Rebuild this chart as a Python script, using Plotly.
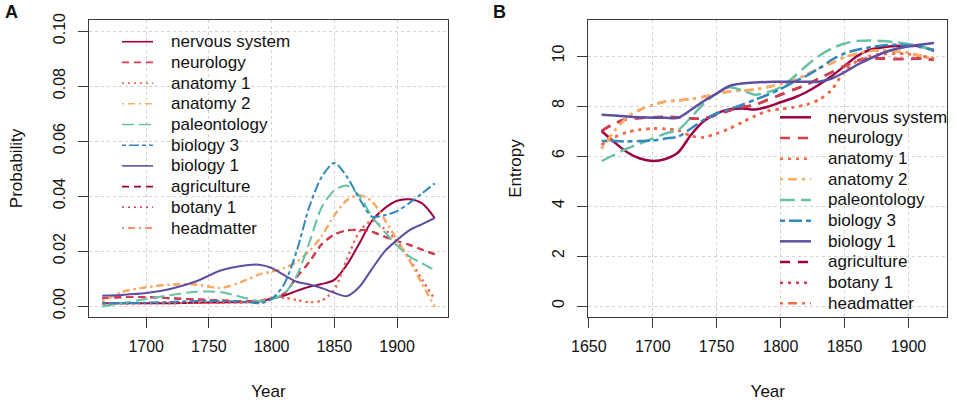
import plotly.graph_objects as go

# ---------------- data ----------------
series_names = ["nervous system", "neurology", "anatomy 1", "anatomy 2", "paleontology",
                "biology 3", "biology 1", "agriculture", "botany 1", "headmatter"]

# Panel A : probability by year
years_a = [1665, 1680, 1700, 1720, 1740, 1760, 1780, 1790, 1800, 1810, 1820,
           1830, 1840, 1850, 1860, 1870, 1880, 1890, 1900, 1910, 1920, 1930]
a_nervous_system = [0.001, 0.001, 0.001, 0.001, 0.0012, 0.0013, 0.0014, 0.0016, 0.0027, 0.0038, 0.0055,
                    0.007, 0.008, 0.0095, 0.015, 0.0228, 0.031, 0.0355, 0.0383, 0.0388, 0.0373, 0.032]
a_neurology = [0.0028, 0.0032, 0.0032, 0.0028, 0.0024, 0.002, 0.0017, 0.0018, 0.0028, 0.0045, 0.0105,
               0.016, 0.0225, 0.026, 0.0275, 0.0277, 0.027, 0.0252, 0.0236, 0.0222, 0.0205, 0.0188]
a_anatomy_1 = [0.0008, 0.0008, 0.001, 0.001, 0.0012, 0.0012, 0.0014, 0.0018, 0.003, 0.003, 0.0022,
               0.0014, 0.002, 0.006, 0.017, 0.027, 0.031, 0.028, 0.0235, 0.017, 0.0095, 0.0025]
a_anatomy_2 = [0.0015, 0.005, 0.0068, 0.0078, 0.0078, 0.0066, 0.0095, 0.0115, 0.0125, 0.0138, 0.016,
               0.02, 0.0255, 0.033, 0.0385, 0.0403, 0.038, 0.0315, 0.024, 0.0165, 0.008, -0.0003]
a_paleontology = [-0.0002, 0.001, 0.0025, 0.004, 0.0052, 0.005, 0.0028, 0.0018, 0.0025, 0.0045, 0.011,
                  0.023, 0.036, 0.042, 0.0438, 0.04, 0.0325, 0.027, 0.022, 0.018, 0.0155, 0.013]
a_biology_3 = [0.001, 0.001, 0.0012, 0.0015, 0.0018, 0.0018, 0.0015, 0.001, 0.0025, 0.008, 0.02,
               0.036, 0.047, 0.052, 0.047, 0.039, 0.0325, 0.033, 0.0345, 0.0375, 0.041, 0.0446]
a_biology_1 = [0.0037, 0.004, 0.0047, 0.0063, 0.009, 0.013, 0.0148, 0.015, 0.0138, 0.0112, 0.0088,
               0.0078, 0.0065, 0.0048, 0.0036, 0.007, 0.0135, 0.0198, 0.024, 0.0276, 0.0298, 0.032]
a_agriculture = list(a_neurology)
a_botany_1 = list(a_anatomy_1)
a_headmatter = list(a_anatomy_2)

# Panel B : entropy by year
years_b = [1660, 1670, 1680, 1690, 1700, 1710, 1720, 1730, 1740, 1750, 1760, 1770, 1780, 1790,
           1800, 1810, 1820, 1830, 1840, 1850, 1860, 1870, 1880, 1890, 1900, 1910, 1920]
b_nervous_system = [7.0, 6.55, 6.15, 5.9, 5.8, 5.88, 6.15, 6.85, 7.4, 7.7, 7.87, 7.9, 7.86, 7.97,
                    8.15, 8.32, 8.55, 8.85, 9.2, 9.6, 10.0, 10.25, 10.35, 10.4, 10.42, 10.38, 10.2]
b_neurology = [7.0, 7.3, 7.48, 7.52, 7.55, 7.56, 7.55, 7.5, 7.5, 7.65, 7.82, 7.95, 8.05, 8.25,
               8.45, 8.65, 8.85, 9.1, 9.35, 9.6, 9.82, 9.9, 9.9, 9.88, 9.88, 9.9, 9.85]
b_anatomy_1 = [6.45, 6.75, 6.95, 7.05, 7.1, 7.08, 7.02, 6.8, 6.75, 6.9, 7.1, 7.35, 7.6, 7.8,
               7.88, 7.95, 8.05, 8.25, 8.65, 9.4, 9.8, 10.0, 10.08, 10.1, 10.08, 10.0, 9.9]
b_anatomy_2 = [6.3, 7.0, 7.55, 7.85, 8.04, 8.18, 8.22, 8.28, 8.37, 8.48, 8.58, 8.62, 8.66, 8.76,
               8.88, 9.02, 9.25, 9.5, 9.72, 9.95, 10.1, 10.2, 10.23, 10.2, 10.12, 10.0, 9.85]
b_paleontology = [5.8, 6.05, 6.3, 6.5, 6.7, 6.9, 7.05, 7.55, 8.1, 8.5, 8.75, 8.62, 8.45, 8.55,
                  8.75, 9.15, 9.6, 10.0, 10.3, 10.5, 10.6, 10.62, 10.6, 10.55, 10.48, 10.38, 10.2]
b_biology_3 = [6.6, 6.6, 6.58, 6.6, 6.62, 6.7, 6.78, 7.1, 7.45, 7.7, 7.87, 8.05, 8.25, 8.45,
               8.68, 8.95, 9.2, 9.5, 9.85, 10.1, 10.25, 10.35, 10.42, 10.45, 10.42, 10.35, 10.25]
b_biology_1 = [7.65, 7.62, 7.58, 7.55, 7.53, 7.53, 7.53, 7.85, 8.2, 8.5, 8.8, 8.9, 8.94, 8.96,
               8.97, 8.97, 8.97, 8.97, 9.1, 9.35, 9.65, 9.9, 10.12, 10.28, 10.38, 10.46, 10.52]
b_agriculture = list(b_neurology)
b_botany_1 = list(b_anatomy_1)
b_headmatter = list(b_anatomy_2)

ticks_a_x = [1700, 1750, 1800, 1850, 1900]
ticks_a_y = [0.0, 0.02, 0.04, 0.06, 0.08, 0.10]
ticks_b_x = [1650, 1700, 1750, 1800, 1850, 1900]
ticks_b_y = [0, 2, 4, 6, 8, 10]

# ---------------- styles ----------------
colors = ["#9E0142", "#D53E4F", "#F46D43", "#FDAE61", "#66C2A5",
          "#3288BD", "#5E4FA2", "#9E0142", "#D53E4F", "#F46D43"]
ltypes = ["solid", "dashed", "dotted", "dotdash", "longdash",
          "twodash", "solid", "dashed", "dotted", "dotdash"]
dash_a = {"solid": "solid", "dashed": "7px,5px", "dotted": "2px,4px",
          "dotdash": "2px,4px,7px,4px", "longdash": "12px,5px", "twodash": "4px,3px,10px,3px"}
dash_b = {"solid": "solid", "dashed": "10px,8px", "dotted": "3px,5px",
          "dotdash": "3px,5px,9px,5px", "longdash": "15px,6px", "twodash": "5px,4px,13px,4px"}
W_A, W_B = 2.0, 2.5

data_a = [a_nervous_system, a_neurology, a_anatomy_1, a_anatomy_2, a_paleontology,
          a_biology_3, a_biology_1, a_agriculture, a_botany_1, a_headmatter]
data_b = [b_nervous_system, b_neurology, b_anatomy_1, b_anatomy_2, b_paleontology,
          b_biology_3, b_biology_1, b_agriculture, b_botany_1, b_headmatter]

FIG_W, FIG_H = 957, 403
FONT = "Liberation Sans, Arial, sans-serif"

fig = go.Figure()
# draw the overlapping (hidden) series first, then the rest on top
draw_order = [7, 8, 9, 0, 1, 2, 3, 4, 5, 6]
for i in draw_order:
    fig.add_trace(go.Scatter(x=years_a, y=data_a[i], name=series_names[i], mode="lines",
                             line=dict(color=colors[i], width=W_A, dash=dash_a[ltypes[i]],
                                       shape="spline", smoothing=0.8),
                             xaxis="x", yaxis="y", showlegend=False))
for i in draw_order:
    fig.add_trace(go.Scatter(x=years_b, y=data_b[i], name=series_names[i], mode="lines",
                             line=dict(color=colors[i], width=W_B, dash=dash_b[ltypes[i]],
                                       shape="spline", smoothing=0.8),
                             xaxis="x2", yaxis="y2", showlegend=False))

# ---------------- layout ----------------
def px_x(p):
    return p / FIG_W

def px_y(p):
    return 1 - p / FIG_H

axis_common = dict(showline=True, mirror=True, linecolor="#3a3a3a", linewidth=1,
                   ticks="outside", ticklen=10, tickcolor="#3a3a3a", tickwidth=1,
                   showgrid=True, gridcolor="#d2d2d2", griddash="dot", gridwidth=1,
                   zeroline=False, automargin=False,
                   tickfont=dict(family=FONT, size=16, color="#111"),
                   title_font=dict(family=FONT, size=17, color="#111"))

fig.update_layout(
    width=FIG_W, height=FIG_H, margin=dict(l=0, r=0, t=0, b=0, autoexpand=False),
    paper_bgcolor="white", plot_bgcolor="white", showlegend=False,
    xaxis=dict(domain=[px_x(89), px_x(448)], range=[1654.4, 1940.6], tickvals=ticks_a_x,
               ticklabelstandoff=5, anchor="y",
               title=dict(text="Year", standoff=30), **axis_common),
    yaxis=dict(domain=[px_y(317), px_y(20)], range=[-0.004, 0.104], tickvals=ticks_a_y,
               tickformat=".2f", tickangle=-90, ticklabelstandoff=7, anchor="x",
               title=dict(text="Probability", standoff=23), **axis_common),
    xaxis2=dict(domain=[px_x(588.3), px_x(947.3)], range=[1649.6, 1930.4], tickvals=ticks_b_x,
                ticklabelstandoff=5, anchor="y2",
                title=dict(text="Year", standoff=30), **axis_common),
    yaxis2=dict(domain=[px_y(317), px_y(20)], range=[-0.44, 11.44], tickvals=ticks_b_y,
                tickangle=-90, ticklabelstandoff=7, anchor="x2",
                title=dict(text="Entropy", standoff=23), **axis_common),
)

# ---------------- legends (drawn as line samples + labels) ----------------
shapes = []
annotations = []
legend_specs = [  # (sample x0, sample x1, text x, first row y, row step, dash map, width)
    (122, 153, 169, 41.7, 20.7, dash_a, 1.6),
    (780, 811, 826, 117.3, 20.67, dash_b, 2.5),
]
for (sx0, sx1, tx, y0, dy, dmap, lw) in legend_specs:
    for k, nm in enumerate(series_names):
        yy = y0 + k * dy
        shapes.append(dict(type="line", xref="paper", yref="paper",
                           x0=px_x(sx0), x1=px_x(sx1), y0=px_y(yy), y1=px_y(yy),
                           line=dict(color=colors[k], width=lw, dash=dmap[ltypes[k]])))
        annotations.append(dict(text=nm, xref="paper", yref="paper", x=px_x(tx), y=px_y(yy),
                                xanchor="left", yanchor="middle", showarrow=False,
                                font=dict(family=FONT, size=17, color="#111")))

# panel letters
annotations.append(dict(text="<b>A</b>", xref="paper", yref="paper", x=px_x(3), y=px_y(12),
                        xanchor="left", yanchor="middle", showarrow=False,
                        font=dict(family=FONT, size=18, color="#111")))
annotations.append(dict(text="<b>B</b>", xref="paper", yref="paper", x=px_x(491), y=px_y(12),
                        xanchor="left", yanchor="middle", showarrow=False,
                        font=dict(family=FONT, size=18, color="#111")))

fig.update_layout(shapes=shapes, annotations=annotations)
fig.write_html("out.html", config={"displayModeBar": False},
               post_script="document.body.style.margin='0';")
